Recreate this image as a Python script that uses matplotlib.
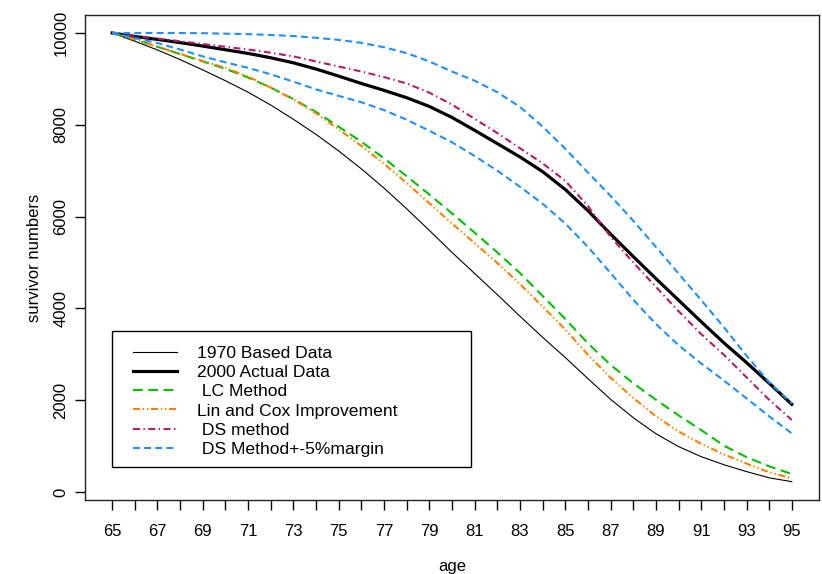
import matplotlib
matplotlib.use("Agg")
import matplotlib.pyplot as plt
from matplotlib.patches import Rectangle

plt.rcParams['font.family'] = ['Liberation Sans', 'DejaVu Sans']
plt.rcParams['lines.scale_dashes'] = False

# survivor numbers per age
age = list(range(65, 96))

base_1970 = [10000, 9820, 9630, 9420, 9195, 8960, 8710, 8430, 8120, 7790, 7430,
             7040, 6620, 6170, 5700, 5220, 4760, 4300, 3830, 3370, 2930,
             2470, 2020, 1620, 1270, 990, 770, 595, 445, 310, 225]
actual_2000 = [10000, 9925, 9860, 9790, 9715, 9635, 9555, 9460, 9350, 9215, 9060,
               8900, 8750, 8590, 8400, 8160, 7880, 7590, 7300, 6980, 6590,
               6130, 5620, 5130, 4650, 4180, 3710, 3250, 2820, 2370, 1910]
lc_method = [10000, 9860, 9700, 9540, 9380, 9220, 9030, 8810, 8560, 8280, 7960,
             7630, 7270, 6880, 6480, 6070, 5650, 5220, 4770, 4270, 3770,
             3240, 2770, 2370, 2010, 1670, 1350, 1010, 760, 560, 392]
lin_cox = [10000, 9860, 9700, 9545, 9390, 9240, 9050, 8810, 8550, 8250, 7900,
           7540, 7150, 6730, 6290, 5850, 5420, 4990, 4530, 4040, 3540,
           2990, 2490, 2050, 1650, 1320, 1050, 820, 620, 430, 298]
ds_method = [10000, 9935, 9880, 9820, 9760, 9700, 9640, 9570, 9490, 9380, 9270,
             9160, 9040, 8900, 8700, 8440, 8130, 7820, 7490, 7160, 6780,
             6230, 5560, 5000, 4470, 3940, 3440, 2990, 2500, 2010, 1569]
ds_upper = [10000, 10000, 10000, 10000, 9995, 9985, 9975, 9956, 9934, 9895, 9850,
            9785, 9690, 9560, 9380, 9160, 8960, 8710, 8390, 7960, 7480,
            6960, 6450, 5910, 5340, 4760, 4180, 3590, 2970, 2390, 1932]
ds_lower = [10000, 9890, 9780, 9640, 9490, 9360, 9240, 9100, 8940, 8770, 8630,
            8490, 8320, 8110, 7870, 7620, 7320, 7000, 6650, 6280, 5850,
            5340, 4770, 4190, 3660, 3200, 2800, 2430, 2040, 1650, 1278]

labels = ["1970 Based Data", "2000 Actual Data", " LC Method",
          "Lin and Cox Improvement", " DS method", " DS Method+-5%margin"]

fig = plt.figure(figsize=(8.22, 5.74), dpi=100)
ax = fig.add_axes([85 / 822, 74 / 574, 734 / 822, 485 / 574])

blue = '#1E8FFF'
ax.plot(age, base_1970, color='black', lw=0.8, label=labels[0])
ax.plot(age, actual_2000, color='black', lw=2.3, label=labels[1])
ax.plot(age, lc_method, color='#00C000', lw=1.5, linestyle=(0, (7, 4)), label=labels[2])
ax.plot(age, lin_cox, color='#FF8000', lw=1.5,
        linestyle=(0, (5, 2, 1, 2, 1, 2)), label=labels[3])
ax.plot(age, ds_method, color='#B5196A', lw=1.5,
        linestyle=(0, (5, 2.5, 1, 2.5)), label=labels[4])
ax.plot(age, ds_upper, color=blue, lw=1.5, linestyle=(0, (5, 3)), label=labels[5])
ax.plot(age, ds_lower, color=blue, lw=1.5, linestyle=(0, (5, 3)))

ax.set_xlim(63.8, 96.2)
ax.set_ylim(-174, 10392)

ax.set_xticks(age)
ax.set_xticklabels([str(a) if a % 2 == 1 else "" for a in age])
ax.set_yticks([0, 2000, 4000, 6000, 8000, 10000])
ax.set_yticklabels(["0", "2000", "4000", "6000", "8000", "10000"],
                   rotation=90, va='center')
ax.tick_params(axis='x', length=7.5, width=1, pad=10, labelsize=12)
ax.tick_params(axis='y', length=7, width=1, pad=5, labelsize=12)
ax.set_xlabel("age", fontsize=12, labelpad=14)
ax.set_ylabel("survivor numbers", fontsize=12, labelpad=8)

for s in ax.spines.values():
    s.set_color('#222222')
    s.set_linewidth(1)

# legend box drawn separately (R style square frame)
ax.add_patch(Rectangle((27 / 734, 33 / 485), 359 / 734, 136 / 485,
                       transform=ax.transAxes, facecolor='white',
                       edgecolor='black', lw=1, zorder=4))
leg = ax.legend(loc='upper left', bbox_to_anchor=(48 / 734, 154 / 485),
                borderaxespad=0, borderpad=0, fontsize=12.6, handlelength=2.5,
                handletextpad=1.15, labelspacing=0.22, frameon=False)
leg.set_zorder(5)

fig.savefig("out.png", dpi=100)
